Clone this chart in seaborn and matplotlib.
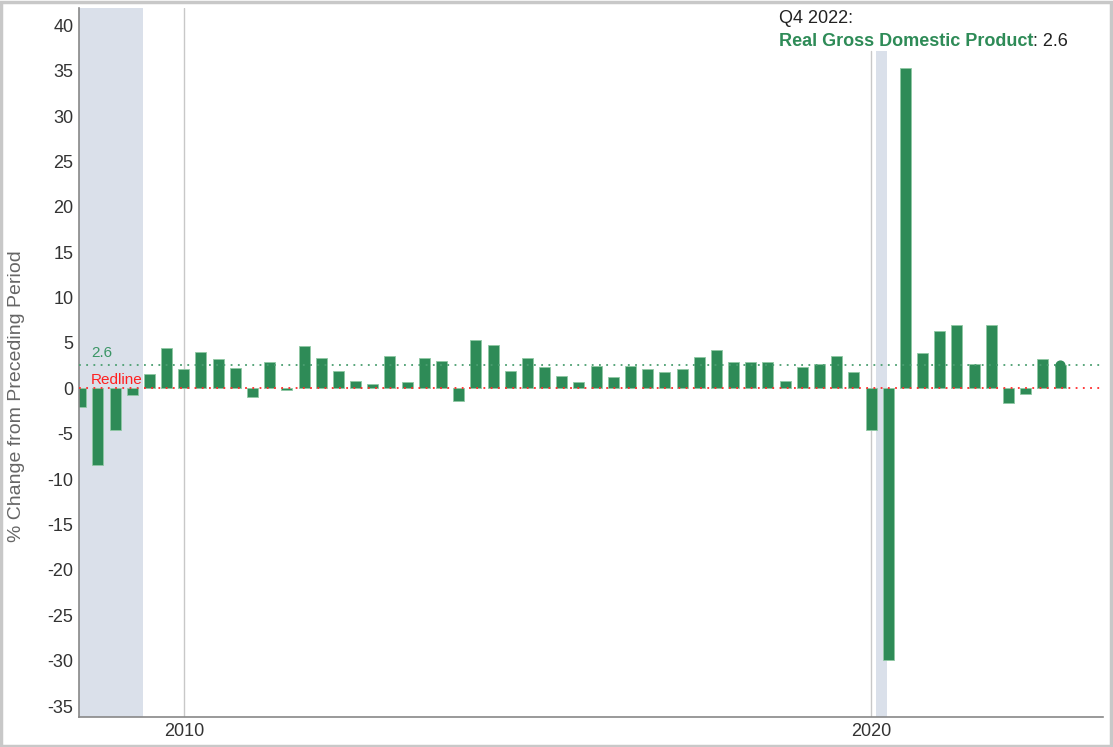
import matplotlib
matplotlib.use("Agg")
import matplotlib.pyplot as plt
import seaborn as sns
import pandas as pd
import numpy as np
from matplotlib.patches import Rectangle

# ---- data ----
quarters = [f"Q{q} {y}" for y in range(2008, 2023) for q in range(1, 5)][2:]
values = [
    -2.1, -8.4, -4.6, -0.7, 1.6, 4.5,            # 2008Q3 - 2009Q4
    2.1, 4.0, 3.2, 2.2,                          # 2010
    -1.0, 2.9, -0.2, 4.7,                        # 2011
    3.4, 1.9, 0.8, 0.5,                          # 2012
    3.6, 0.7, 3.3, 3.0,                          # 2013
    -1.4, 5.3, 4.8, 1.9,                         # 2014
    3.4, 2.4, 1.4, 0.7,                          # 2015
    2.5, 1.3, 2.5, 2.1,                          # 2016
    1.8, 2.1, 3.5, 4.2,                          # 2017
    2.9, 2.9, 2.9, 0.8,                          # 2018
    2.3, 2.7, 3.6, 1.8,                          # 2019
    -4.6, -29.9, 35.3, 3.9,                      # 2020
    6.3, 7.0, 2.7, 7.0,                          # 2021
    -1.6, -0.6, 3.2, 2.6,                        # 2022
]
tick_labels = ["2010", "2020"]
tick_quarters = ["Q1 2010", "Q1 2020"]
reference_value = 2.6
series_name = "Real Gross Domestic Product"
latest_label = "Q4 2022"
ytick_values = list(range(-35, 41, 5))

df = pd.DataFrame({"quarter": quarters, "value": values})

sns.set_theme(style="white")
plt.rcParams["font.family"] = ["Liberation Sans", "DejaVu Sans"]

GREEN = "#2e8b57"
fig = plt.figure(figsize=(11.13, 7.47), dpi=100)
ax = fig.add_axes([79 / 1113, 30 / 747, (1103 - 79) / 1113, (717 - 8) / 747])

# recession shading (in quarter-index coordinates)
ax.axvspan(-0.5, 3.65, color="#dae0ea", zorder=0, lw=0)
ax.axvspan(46.3, 46.95, ymax=0.94, color="#dae0ea", zorder=0, lw=0)

sns.barplot(data=df, x="quarter", y="value", color=GREEN, saturation=1,
            width=0.64, edgecolor="#8fc8a4", linewidth=0.6, ax=ax, zorder=2)

# gridlines at tick positions
pos = [quarters.index(q) for q in tick_quarters]
ax.axvline(pos[0], color="#c8c8c8", lw=1, zorder=1)
ax.axvline(pos[1], ymax=0.94, color="#c8c8c8", lw=1, zorder=1)

# reference lines
ax.axhline(reference_value, color="#4a9e70", lw=1.3, ls=(0, (1, 3)), zorder=3)
ax.axhline(0, color="#ff2a2a", lw=1.3, ls=(0, (1, 3)), zorder=3)
ax.text(0.6, reference_value + 0.5, f"{reference_value}", color="#3a9565",
        fontsize=11, va="bottom", ha="left", zorder=4)
ax.text(0.6, 0.2, "Redline", color="#ff2020", fontsize=11,
        va="bottom", ha="left", zorder=4)

# marker on latest point
ax.scatter([len(values) - 1], [values[-1]], s=40, color=GREEN, zorder=4)

ax.set_xlim(-0.1, 59.5)
ax.set_ylim(-36.2, 41.9)
ax.set_yticks(ytick_values)
ax.set_yticklabels([str(v) for v in ytick_values], fontsize=13, color="#333333")
ax.set_xticks(pos)
ax.set_xticklabels(tick_labels, fontsize=13, color="#333333")
ax.tick_params(axis="both", length=0, pad=4)
ax.set_xlabel("")
ax.set_ylabel("")
for s in ["top", "right"]:
    ax.spines[s].set_visible(False)
for s in ["left", "bottom"]:
    ax.spines[s].set_color("#888888")
    ax.spines[s].set_linewidth(1.2)

fig.text(17 / 1113, 1 - 396 / 747, "% Change from Preceding Period", rotation=90,
         fontsize=14, color="#666666", ha="center", va="center")

# annotation
t1 = fig.text(779 / 1113, 1 - 27 / 747, f"{latest_label}:", fontsize=13,
              color="#222222", ha="left", va="bottom")
t2 = fig.text(779 / 1113, 1 - 50 / 747, series_name, fontsize=13,
              color=GREEN, fontweight="bold", ha="left", va="bottom")
ax.annotate(f": {values[-1]}", xy=(1, 0), xycoords=t2, fontsize=13,
            color="#222222", ha="left", va="bottom")

# figure border
fig.patches.append(Rectangle((0.001, 0.001), 0.997, 0.996, transform=fig.transFigure,
                             fill=False, edgecolor="#c8c8c8", lw=2.5))

fig.savefig("out.png", dpi=100)
